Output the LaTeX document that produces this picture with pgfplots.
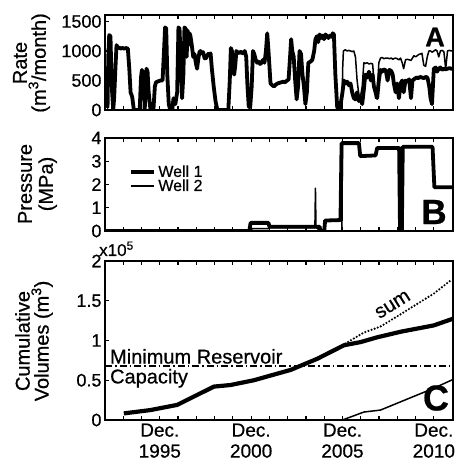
\documentclass[border=0pt]{standalone}
\usepackage{fontspec}
\setmainfont{Liberation Sans}[RawFeature={embolden=0.6}]
\usepackage{pgfplots}
\pgfplotsset{compat=1.18}
\newcommand{\fs}[2]{\fontsize{#1}{#2}\selectfont}
\pgfplotsset{
 panel/.style={
   scale only axis, width=348pt,
   xmin=1992.95, xmax=2012.0,
   xtick={1993.95,1994.95,1995.95,1996.95,1997.95,1998.95,1999.95,2000.95,2001.95,2002.95,2003.95,2004.95,2005.95,2006.95,2007.95,2008.95,2009.95,2010.95},
   xticklabels={},
   tick align=inside, xtick pos=both, ytick pos=left,
   major tick length=4pt,
   axis line style={line width=1.6pt},
   every tick/.style={line width=1.2pt, black},
   yticklabel style={font=\fs{18}{18}},
 },
 w1/.style={black, line width=3.8pt, line join=round},
 w2/.style={black, line width=1.5pt, line join=round},
}
\begin{document}
\begin{tikzpicture}[x=1pt,y=1pt]
\useasboundingbox (0,0) rectangle (458,468);
% ---------------- Panel A
\begin{axis}[panel, at={(105pt,358pt)}, anchor=south west, height=95pt,
  ymin=0, ymax=1610, ytick={0,500,1000,1500}, yticklabels={0,500,1000,1500}]
\addplot[w1] coordinates {
(1993.00,150)(1993.05,500)(1993.09,50)(1993.13,900)(1993.18,1270)(1993.25,1250)(1993.30,600)(1993.34,300)(1993.40,0)(1993.45,200)
(1993.52,700)(1993.58,1100)(1993.65,1050)(1993.72,1060)(1993.80,1040)(1993.90,1050)(1994.00,1040)(1994.10,1050)(1994.20,1040)(1994.28,700)
(1994.35,300)(1994.44,220)(1994.53,0)(1994.70,0)(1994.85,0)(1994.92,550)(1994.97,680)(1995.02,400)(1995.06,650)(1995.12,0)
(1995.18,300)(1995.22,700)(1995.28,650)(1995.34,300)(1995.44,0)(1995.60,0)(1995.68,400)(1995.74,470)(1995.82,480)(1995.90,490)
(1996.00,500)(1996.10,500)(1996.18,1000)(1996.24,1400)(1996.30,1380)(1996.36,600)(1996.44,100)(1996.52,0)(1996.63,0)(1996.70,200)
(1996.80,100)(1996.90,300)(1996.97,1400)(1997.03,1380)(1997.10,800)(1997.17,200)(1997.24,600)(1997.30,1400)(1997.36,1380)(1997.42,900)
(1997.47,1350)(1997.53,1100)(1997.58,1300)(1997.63,1250)(1997.70,1100)(1997.78,900)(1997.85,950)(1997.92,800)(1997.99,700)(1998.05,850)
(1998.12,980)(1998.18,1000)(1998.25,960)(1998.32,980)(1998.40,880)(1998.45,870)(1998.52,900)(1998.60,950)(1998.66,940)(1998.73,960)
(1998.80,700)(1998.90,400)(1999.00,150)(1999.10,0)(1999.27,0)(1999.50,0)(1999.70,0)(1999.78,500)(1999.84,1050)(1999.90,1000)
(1999.96,700)(2000.02,600)(2000.08,750)(2000.14,1000)(2000.20,980)(2000.28,960)(2000.36,990)(2000.44,970)(2000.52,960)(2000.60,1000)
(2000.68,900)(2000.75,400)(2000.82,50)(2000.90,50)(2000.98,400)(2001.05,1000)(2001.12,950)(2001.20,850)(2001.28,800)(2001.36,820)
(2001.44,780)(2001.52,800)(2001.60,850)(2001.68,800)(2001.76,1000)(2001.83,1300)(2001.90,1000)(2002.01,450)(2002.10,420)(2002.20,400)
(2002.30,430)(2002.40,450)(2002.50,460)(2002.60,470)(2002.70,480)(2002.80,470)(2002.92,500)(2003.00,520)(2003.08,900)(2003.14,1200)
(2003.20,1000)(2003.28,900)(2003.36,500)(2003.44,180)(2003.52,400)(2003.60,1000)(2003.68,950)(2003.76,600)(2003.84,400)(2003.92,100)
(2004.00,300)(2004.08,800)(2004.20,820)(2004.30,850)(2004.40,1000)(2004.47,1200)(2004.55,1250)(2004.62,1150)(2004.70,1280)(2004.78,1220)
(2004.86,1260)(2004.94,1200)(2005.02,1280)(2005.10,1250)(2005.18,1220)(2005.26,1260)(2005.34,1240)(2005.42,1300)(2005.48,1280)(2005.56,600)
(2005.66,50)(2005.75,0)(2005.85,100)(2005.95,300)(2006.03,500)(2006.12,450)(2006.21,480)(2006.30,420)(2006.39,450)(2006.48,300)
(2006.57,200)(2006.66,180)(2006.75,300)(2006.85,150)(2006.94,200)(2007.03,100)(2007.12,350)(2007.20,600)(2007.30,550)(2007.40,650)
(2007.50,500)(2007.60,600)(2007.67,400)(2007.76,300)(2007.85,200)(2007.94,500)(2008.03,680)(2008.12,650)(2008.22,690)(2008.32,670)
(2008.42,500)(2008.52,680)(2008.62,660)(2008.70,600)(2008.76,450)(2008.86,300)(2008.94,450)(2009.04,200)(2009.13,450)(2009.22,500)
(2009.30,300)(2009.40,500)(2009.50,480)(2009.60,520)(2009.70,200)(2009.78,500)(2009.86,520)(2010.00,550)(2010.10,540)(2010.20,560)
(2010.30,550)(2010.40,540)(2010.50,560)(2010.60,550)(2010.70,400)(2010.77,200)(2010.85,100)(2010.95,700)(2011.05,720)(2011.13,650)
(2011.22,700)(2011.31,720)(2011.40,680)(2011.50,700)(2011.60,690)(2011.70,700)(2011.80,710)(2011.90,700)(2012.00,700)
};
\addplot[w2] coordinates {
(2005.92,0)(2005.96,700)(2006.00,1000)(2006.10,1020)(2006.21,1000)(2006.30,1010)(2006.39,1000)(2006.48,990)(2006.57,1000)(2006.66,900)
(2006.75,500)(2006.85,250)(2006.94,230)(2007.03,400)(2007.12,800)(2007.20,790)(2007.30,800)(2007.40,780)(2007.50,790)(2007.60,780)
(2007.67,500)(2007.76,200)(2007.85,300)(2007.94,800)(2008.03,880)(2008.12,890)(2008.22,870)(2008.32,880)(2008.42,880)(2008.52,870)
(2008.62,880)(2008.70,860)(2008.76,870)(2008.86,880)(2008.94,870)(2009.04,850)(2009.13,880)(2009.22,800)(2009.30,700)(2009.40,850)
(2009.50,860)(2009.60,850)(2009.70,840)(2009.78,880)(2009.86,920)(2009.95,900)(2010.04,920)(2010.12,940)(2010.22,950)(2010.30,960)
(2010.40,760)(2010.50,740)(2010.59,900)(2010.68,1000)(2010.77,1000)(2010.86,980)(2010.95,1000)(2011.05,1020)(2011.13,1000)(2011.22,900)
(2011.31,1000)(2011.40,1010)(2011.50,990)(2011.60,700)(2011.70,1000)(2011.80,1010)(2011.90,1000)(2012.00,1000)
};
\end{axis}
% ---------------- Panel B
\begin{axis}[panel, at={(105pt,237pt)}, anchor=south west, height=93pt,
  ymin=0, ymax=4, ytick={0,1,2,3,4}, yticklabels={0,1,2,3,4},
  legend style={at={(0.07,0.73)}, anchor=north west, draw=none, fill=none,
     font=\fs{16}{16}, row sep=-3pt, inner sep=0pt,
     /tikz/every even column/.append style={column sep=2pt}},
  legend cell align=left,
  legend image code/.code={\draw[#1] (0pt,0pt) -- (23pt,0pt);}]
\addplot[w1] coordinates {
(1992.95,0)(2000.85,0)(2000.92,0.35)(2001.90,0.35)(2001.95,0.18)(2004.70,0.18)(2004.75,0)(2004.95,0)(2005.00,0.45)(2005.84,0.47)
(2005.90,3.78)(2006.85,3.78)(2006.92,3.22)(2007.76,3.25)(2007.85,3.57)(2009.05,3.57)(2009.10,0)(2009.20,0)(2009.25,3.62)(2010.88,3.62)
(2010.98,1.88)(2012.00,1.88)
};
\addlegendentry{Well 1}
\addplot[w2] coordinates {
(1992.95,0)(2000.95,0)(2001.00,0.10)(2001.90,0.10)(2001.95,0.15)(2004.44,0.15)(2004.47,1.84)(2004.50,0.15)(2004.75,0)(2005.92,0)
(2005.95,3.78)(2006.85,3.78)(2006.92,3.22)(2007.76,3.25)(2007.85,3.57)(2010.88,3.62)(2010.98,1.88)(2012.00,1.88)
};
\addlegendentry{Well 2}
\end{axis}
% ---------------- Panel C
\begin{axis}[panel, at={(105pt,48pt)}, anchor=south west, height=159pt,
  ymin=0, ymax=2, ytick={0,0.5,1,1.5,2}, yticklabels={0,0.5,1,1.5,2},
  xticklabels={,,{Dec.\\1995},,,,,{Dec.\\2000},,,,,{Dec.\\2005},,,,,{Dec.\\2010}},
  xticklabel style={font=\fs{19}{21}, align=center}]
\addplot[black, line width=1.4pt, dash pattern=on 7pt off 3pt on 1.5pt off 3pt] coordinates {(1992.95,0.68)(2012.0,0.68)};
\addplot[black, line width=2.4pt, line cap=round, dash pattern=on 0pt off 3.3pt] coordinates {
(2005.95,0.94)(2007.12,1.10)(2008.03,1.175)(2009.13,1.33)(2010.95,1.59)(2011.95,1.77)
};
\addplot[black, line width=4.2pt, line join=round] coordinates {
(1993.98,0.083)(1995.44,0.125)(1996.90,0.19)(1998.91,0.42)(1999.82,0.44)(2001.10,0.50)(2003.11,0.63)(2004.57,0.77)(2006.03,0.94)(2006.94,0.98)
(2007.85,1.04)(2009.13,1.11)(2010.95,1.19)(2011.95,1.27)(2012.0,1.27)
};
\addplot[black, line width=1.5pt] coordinates {
(2005.95,0)(2007.12,0.10)(2008.03,0.125)(2010.95,0.40)(2012.0,0.51)
};
\node[anchor=base west, font=\fs{20}{20}, inner sep=0pt] at (axis cs:1993.22,0.71) {Minimum Reservoir};
\node[anchor=base west, font=\fs{20}{20}, inner sep=0pt] at (axis cs:1993.22,0.46) {Capacity};
\node[rotate=32, font=\fs{20}{20}, inner sep=0pt] at (axis cs:2008.7,1.45) {sum};
\end{axis}
% labels
\node[rotate=90, align=center, font=\fs{20}{19}] at (31.5,405) {Rate\\(m\textsuperscript{3}/month)};
\node[rotate=90, align=center, font=\fs{20}{21}] at (37.5,284) {Pressure\\(MPa)};
\node[rotate=90, align=center, font=\fs{20}{19}] at (34,127) {Cumulative\\Volumes (m\textsuperscript{3})};
\node[anchor=base west, font=\fs{17}{17}, inner sep=0pt] at (99,212) {x10\textsuperscript{5}};
\node[font=\bfseries\fs{27}{27}] at (435,431) {A};
\node[font=\bfseries\fs{35}{35}] at (434,256) {B};
\node[font=\bfseries\fs{36}{36}] at (436,70) {C};
\end{tikzpicture}
\end{document}
